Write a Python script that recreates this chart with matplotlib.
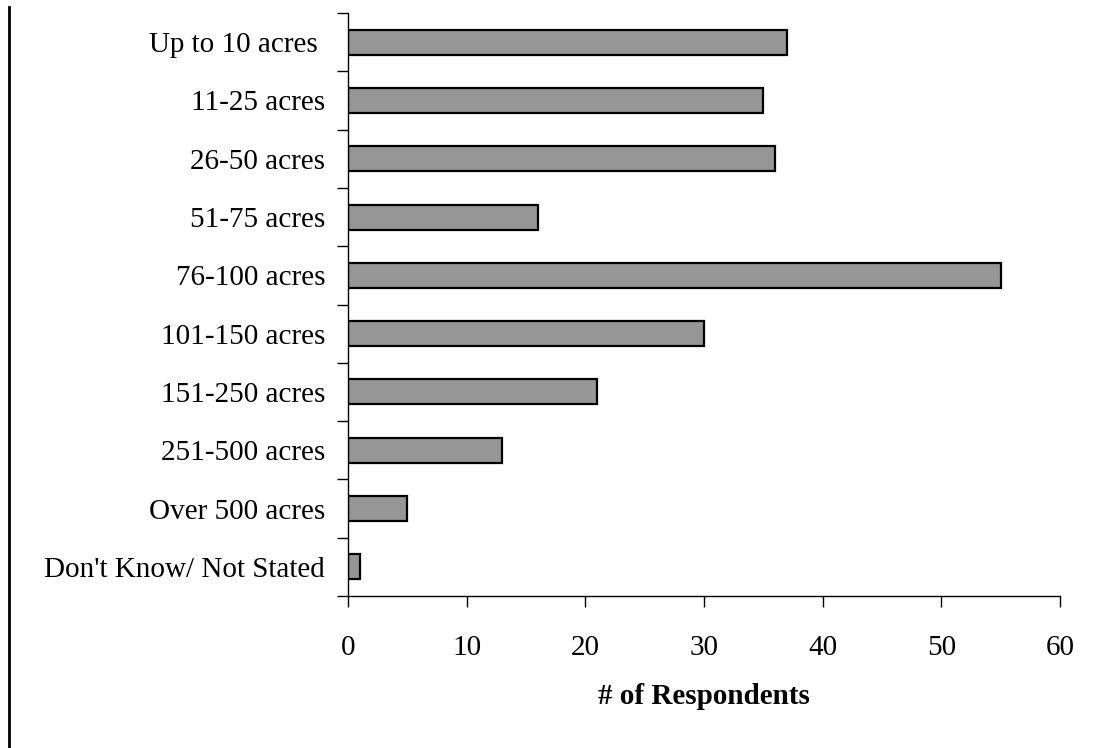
import numpy as np
import matplotlib
matplotlib.use('Agg')
from matplotlib import pyplot as plt
from matplotlib.lines import Line2D

# farm size categories, top to bottom
categories = ['Up to 10 acres ', '11-25 acres', '26-50 acres', '51-75 acres',
              '76-100 acres', '101-150 acres', '151-250 acres', '251-500 acres',
              'Over 500 acres', "Don't Know/ Not Stated"]
respondents = [37, 35, 36, 16, 55, 30, 21, 13, 5, 1]
xticks = [0, 10, 20, 30, 40, 50, 60]

plt.rcParams['font.family'] = ['Liberation Serif', 'DejaVu Serif']

fig = plt.figure(figsize=(10.96, 7.48), dpi=100)
ax = fig.add_axes([348/1096, 1 - 596/748, (1060-348)/1096, (596-13)/748])

ypos = np.arange(len(categories))
ax.barh(ypos, respondents, height=0.43, color='#969696', edgecolor='black', linewidth=1.6)

ax.set_ylim(len(categories) - 0.5, -0.5)
ax.set_xlim(0, 60)

# category ticks sit between bars, labels sit on the bars
ax.set_yticks(np.arange(len(categories) + 1) - 0.5)
ax.set_yticklabels([])
ax.set_yticks(ypos, minor=True)
ax.set_yticklabels(categories, minor=True, fontsize=21)
ax.tick_params(axis='y', which='minor', length=0, pad=16.5)
ax.tick_params(axis='y', which='major', length=8, width=1, direction='out')

ax.set_xticks(xticks)
ax.set_xticklabels([str(t) for t in xticks], fontsize=21)
ax.tick_params(axis='x', length=8, width=1, direction='out', pad=20)

ax.set_xlabel('# of Respondents', fontsize=21, fontweight='bold', labelpad=16)

for side in ['top', 'right']:
    ax.spines[side].set_visible(False)
ax.spines['left'].set_linewidth(1)
ax.spines['bottom'].set_linewidth(1)

# frame line on the left edge
fig.add_artist(Line2D([9/1096, 9/1096], [0, 1 - 7/748], color='black', linewidth=2,
                      transform=fig.transFigure))

fig.savefig('out.png', dpi=100)
